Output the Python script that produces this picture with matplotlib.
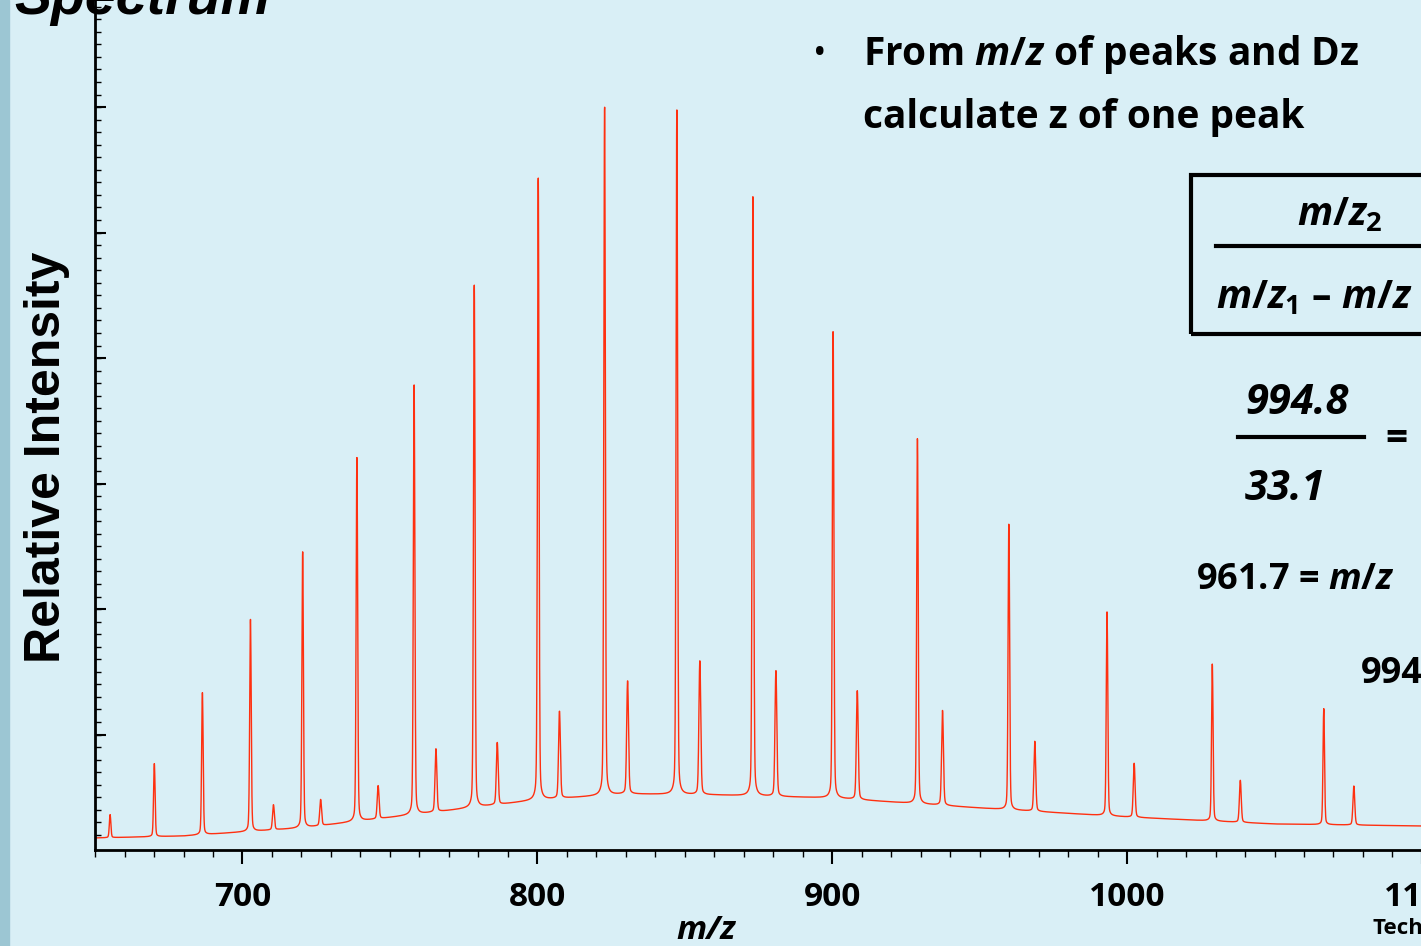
import numpy as np
import matplotlib.pyplot as plt
from matplotlib.patches import Rectangle

plt.rcParams['font.family'] = ['Open Sans', 'DejaVu Sans']
plt.rcParams['mathtext.fontset'] = 'custom'
plt.rcParams['mathtext.it'] = 'Open Sans:italic:bold'
plt.rcParams['mathtext.rm'] = 'Open Sans:bold'

# main charge-state series (m/z, height above baseline)
main_mz = [655.1, 670.1, 686.4, 702.7, 720.4, 738.8, 758.2, 778.6, 800.3, 822.8,
           847.3, 873.1, 900.3, 928.9, 959.9, 993.2, 1028.9, 1066.7]
main_h = [23, 73, 142, 212, 276, 364, 430, 523, 623, 690,
          687, 602, 468, 366, 286, 204, 157, 116]
# adduct / side peaks
side_mz = [710.5, 726.5, 746.0, 765.6, 786.4, 807.5, 830.6, 855.1, 880.9,
           908.5, 937.4, 968.7, 1002.4, 1038.4, 1076.9]
side_h = [25, 26, 33, 63, 62, 87, 113, 134, 126, 109, 95, 70, 54, 42, 39]
# baseline control points (m/z, level)
base_mz = [650, 680, 720, 760, 800, 830, 860, 900, 950, 1000, 1050, 1100]
base_y = [12, 14, 22, 36, 50, 56, 55, 52, 42, 33, 26, 24]

mz = np.linspace(650, 1100, 9000)
spec = np.interp(mz, base_mz, base_y)
for c, h in zip(main_mz, main_h):
    spec += 0.85 * h * np.exp(-0.5 * ((mz - c) / 0.25) ** 2)
    spec += 0.15 * h / (1 + ((mz - c) / 0.4) ** 2)
for c, h in zip(side_mz, side_h):
    spec += 0.85 * h * np.exp(-0.5 * ((mz - c) / 0.3) ** 2)
    spec += 0.15 * h / (1 + ((mz - c) / 0.5) ** 2)

bg = '#d9eff6'
fig = plt.figure(figsize=(14.21, 9.46), dpi=100, facecolor=bg)
fig.patches.append(Rectangle((0, 0), 0.006, 1, transform=fig.transFigure,
                             color='#9cc6d3', zorder=0))
ax = fig.add_axes([0.0669, 0.1015, 0.94, 0.8985], facecolor=bg)
ax.plot(mz, spec, color='#ff3010', lw=1)
ax.set_xlim(650, 1103)
ax.set_ylim(0, 850)
for s in ['top', 'right']:
    ax.spines[s].set_visible(False)
ax.spines['left'].set_linewidth(2)
ax.spines['bottom'].set_linewidth(2)
ax.set_xticks([700, 800, 900, 1000, 1100])
ax.set_xticklabels(['700', '800', '900', '1000', '1100'], fontsize=24, fontweight='bold')
ax.set_xticks(np.arange(650, 1101, 10), minor=True)
ax.tick_params(axis='x', which='major', length=10, width=1.5, direction='out', pad=12)
ax.tick_params(axis='x', which='minor', length=5, width=1, direction='out')
ax.set_yticks(np.arange(115, 850, 125.5))
ax.set_yticks(np.arange(15, 850, 12.55), minor=True)
ax.set_yticklabels([])
ax.tick_params(axis='y', which='major', length=8, width=1.5, direction='in')
ax.tick_params(axis='y', which='minor', length=4, width=1, direction='in')
fig.text(0.497, 0.016, 'm/z', fontsize=24, fontweight='bold', style='italic',
         ha='center', va='center')
fig.text(0.033, 0.517, 'Relative Intensity', fontsize=36, fontweight='bold',
         family=['Liberation Sans', 'DejaVu Sans'], rotation=90, ha='center', va='center')

fig.text(0.01, 1.0, 'Spectrum', fontsize=40, fontweight='bold', style='italic',
         va='center', ha='left', family=['Liberation Sans', 'DejaVu Sans'])
fig.text(0.572, 0.942, '•', fontsize=26, va='center')
fig.text(0.607, 0.942, 'From $m/z$ of peaks and Dz', fontsize=28,
         fontweight='bold', va='center')
fig.text(0.607, 0.876, 'calculate z of one peak', fontsize=28, fontweight='bold', va='center')
fig.patches.append(Rectangle((0.838, 0.647), 0.2, 0.168, transform=fig.transFigure,
                             fill=False, ec='black', lw=3))
fig.text(0.913, 0.773, '$m/z_2$', fontsize=28, va='center')
fig.add_artist(plt.Line2D([0.856, 1.0], [0.74, 0.74], transform=fig.transFigure,
                          color='black', lw=3))
fig.text(0.856, 0.685, '$m/z_1$ \u2013 $m/z$', fontsize=28, fontweight='bold', va='center')
fig.text(0.876, 0.573, '994.8', fontsize=30, fontweight='bold', style='italic', va='center')
fig.add_artist(plt.Line2D([0.871, 0.96], [0.538, 0.538], transform=fig.transFigure,
                          color='black', lw=3))
fig.text(0.975, 0.535, '=', fontsize=28, fontweight='bold', va='center')
fig.text(0.876, 0.483, '33.1', fontsize=30, fontweight='bold', style='italic', va='center')
fig.text(0.842, 0.387, '961.7 = $m/z$', fontsize=26, fontweight='bold', va='center')
fig.text(0.958, 0.287, '994', fontsize=26, fontweight='bold', va='center')
fig.text(0.966, 0.018, 'Tech', fontsize=16, fontweight='bold', va='center')

fig.savefig('out.png', dpi=100, facecolor=bg)
